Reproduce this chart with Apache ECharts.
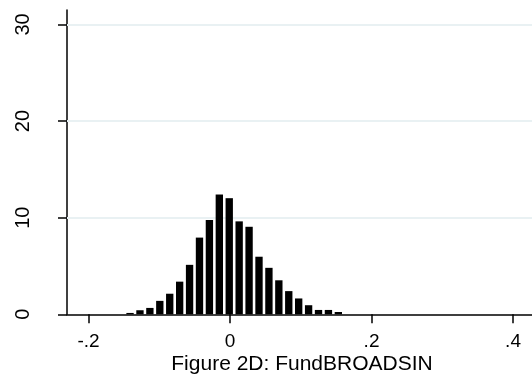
<!DOCTYPE html>
<html>
<head>
<meta charset="utf-8">
<script src="https://cdn.jsdelivr.net/npm/echarts@6/dist/echarts.min.js"></script>
<style>
html,body{margin:0;padding:0;background:#fff;}
#chart{width:532px;height:381px;}
</style>
</head>
<body>
<div id="chart"></div>
<script>
// Histogram bin centers (FundBROADSIN) and densities
const binStart = -0.1413;
const binWidth = 0.01402;
const densities = [0.14, 0.42, 0.66, 1.39, 2.13, 3.38, 5.12, 7.94, 9.76, 12.40, 12.02,
                   9.62, 9.06, 5.96, 4.81, 3.52, 2.40, 1.64, 0.94, 0.45, 0.45, 0.24];
const xTicks = [-0.2, 0, 0.2, 0.4];
const xTickLabels = ['-.2', '0', '.2', '.4'];
const yTicks = [0, 10, 20, 30];
const titleText = 'Figure 2D: FundBROADSIN';

const barData = densities.map((d, i) => [binStart + i * binWidth, d]);
const FONT = '"Liberation Sans", Arial, sans-serif';

const chart = echarts.init(document.getElementById('chart'), null, {renderer: 'canvas'});
chart.setOption({
  animation: false,
  backgroundColor: '#ffffff',
  grid: {left: 67, right: 0, top: 10, bottom: 66.7, containLabel: false},
  xAxis: {
    type: 'value', min: -0.2304, max: 0.4268,
    axisLine: {show: true, onZero: false, lineStyle: {color: '#000', width: 1.5}},
    axisTick: {show: true, length: 9, customValues: xTicks, lineStyle: {color: '#000', width: 1.5}},
    axisLabel: {show: true, customValues: xTicks, margin: 18, fontSize: 19, color: '#000', fontFamily: FONT,
      formatter: v => { const i = xTicks.findIndex(t => Math.abs(t - v) < 1e-9); return i >= 0 ? xTickLabels[i] : ''; }},
    splitLine: {show: false}
  },
  yAxis: {
    type: 'value', min: 0, max: 31.5,
    axisLine: {show: true, onZero: false, lineStyle: {color: '#000', width: 1.5}},
    axisTick: {show: true, length: 9, customValues: yTicks, lineStyle: {color: '#000', width: 1.5}},
    axisLabel: {show: true, customValues: yTicks, rotate: 90, margin: 34, fontSize: 20, color: '#000', fontFamily: FONT},
    splitLine: {show: false}
  },
  series: [
    {
      type: 'line', data: [], silent: true, z: 1,
      markLine: {
        silent: true, symbol: 'none', label: {show: false}, z: 1,
        lineStyle: {color: '#e9f1f3', width: 2, type: 'solid'},
        data: yTicks.filter(v => v > 0).map(v => ({yAxis: v}))
      }
    },
    {
      type: 'custom', z: 5,
      data: barData,
      renderItem: function (params, api) {
        const x = api.value(0), y = api.value(1);
        const p0 = api.coord([x - binWidth * 0.37, 0]);
        const p1 = api.coord([x + binWidth * 0.37, y]);
        return {
          type: 'rect',
          shape: {x: p0[0], y: p1[1], width: p1[0] - p0[0], height: p0[1] - p1[1]},
          style: {fill: '#000'}
        };
      }
    }
  ],
  graphic: [{
    type: 'text', x: 302, y: 354,
    style: {text: titleText, font: '21px ' + FONT, fill: '#000', textAlign: 'center', textVerticalAlign: 'top'}
  }]
});
</script>
</body>
</html>
